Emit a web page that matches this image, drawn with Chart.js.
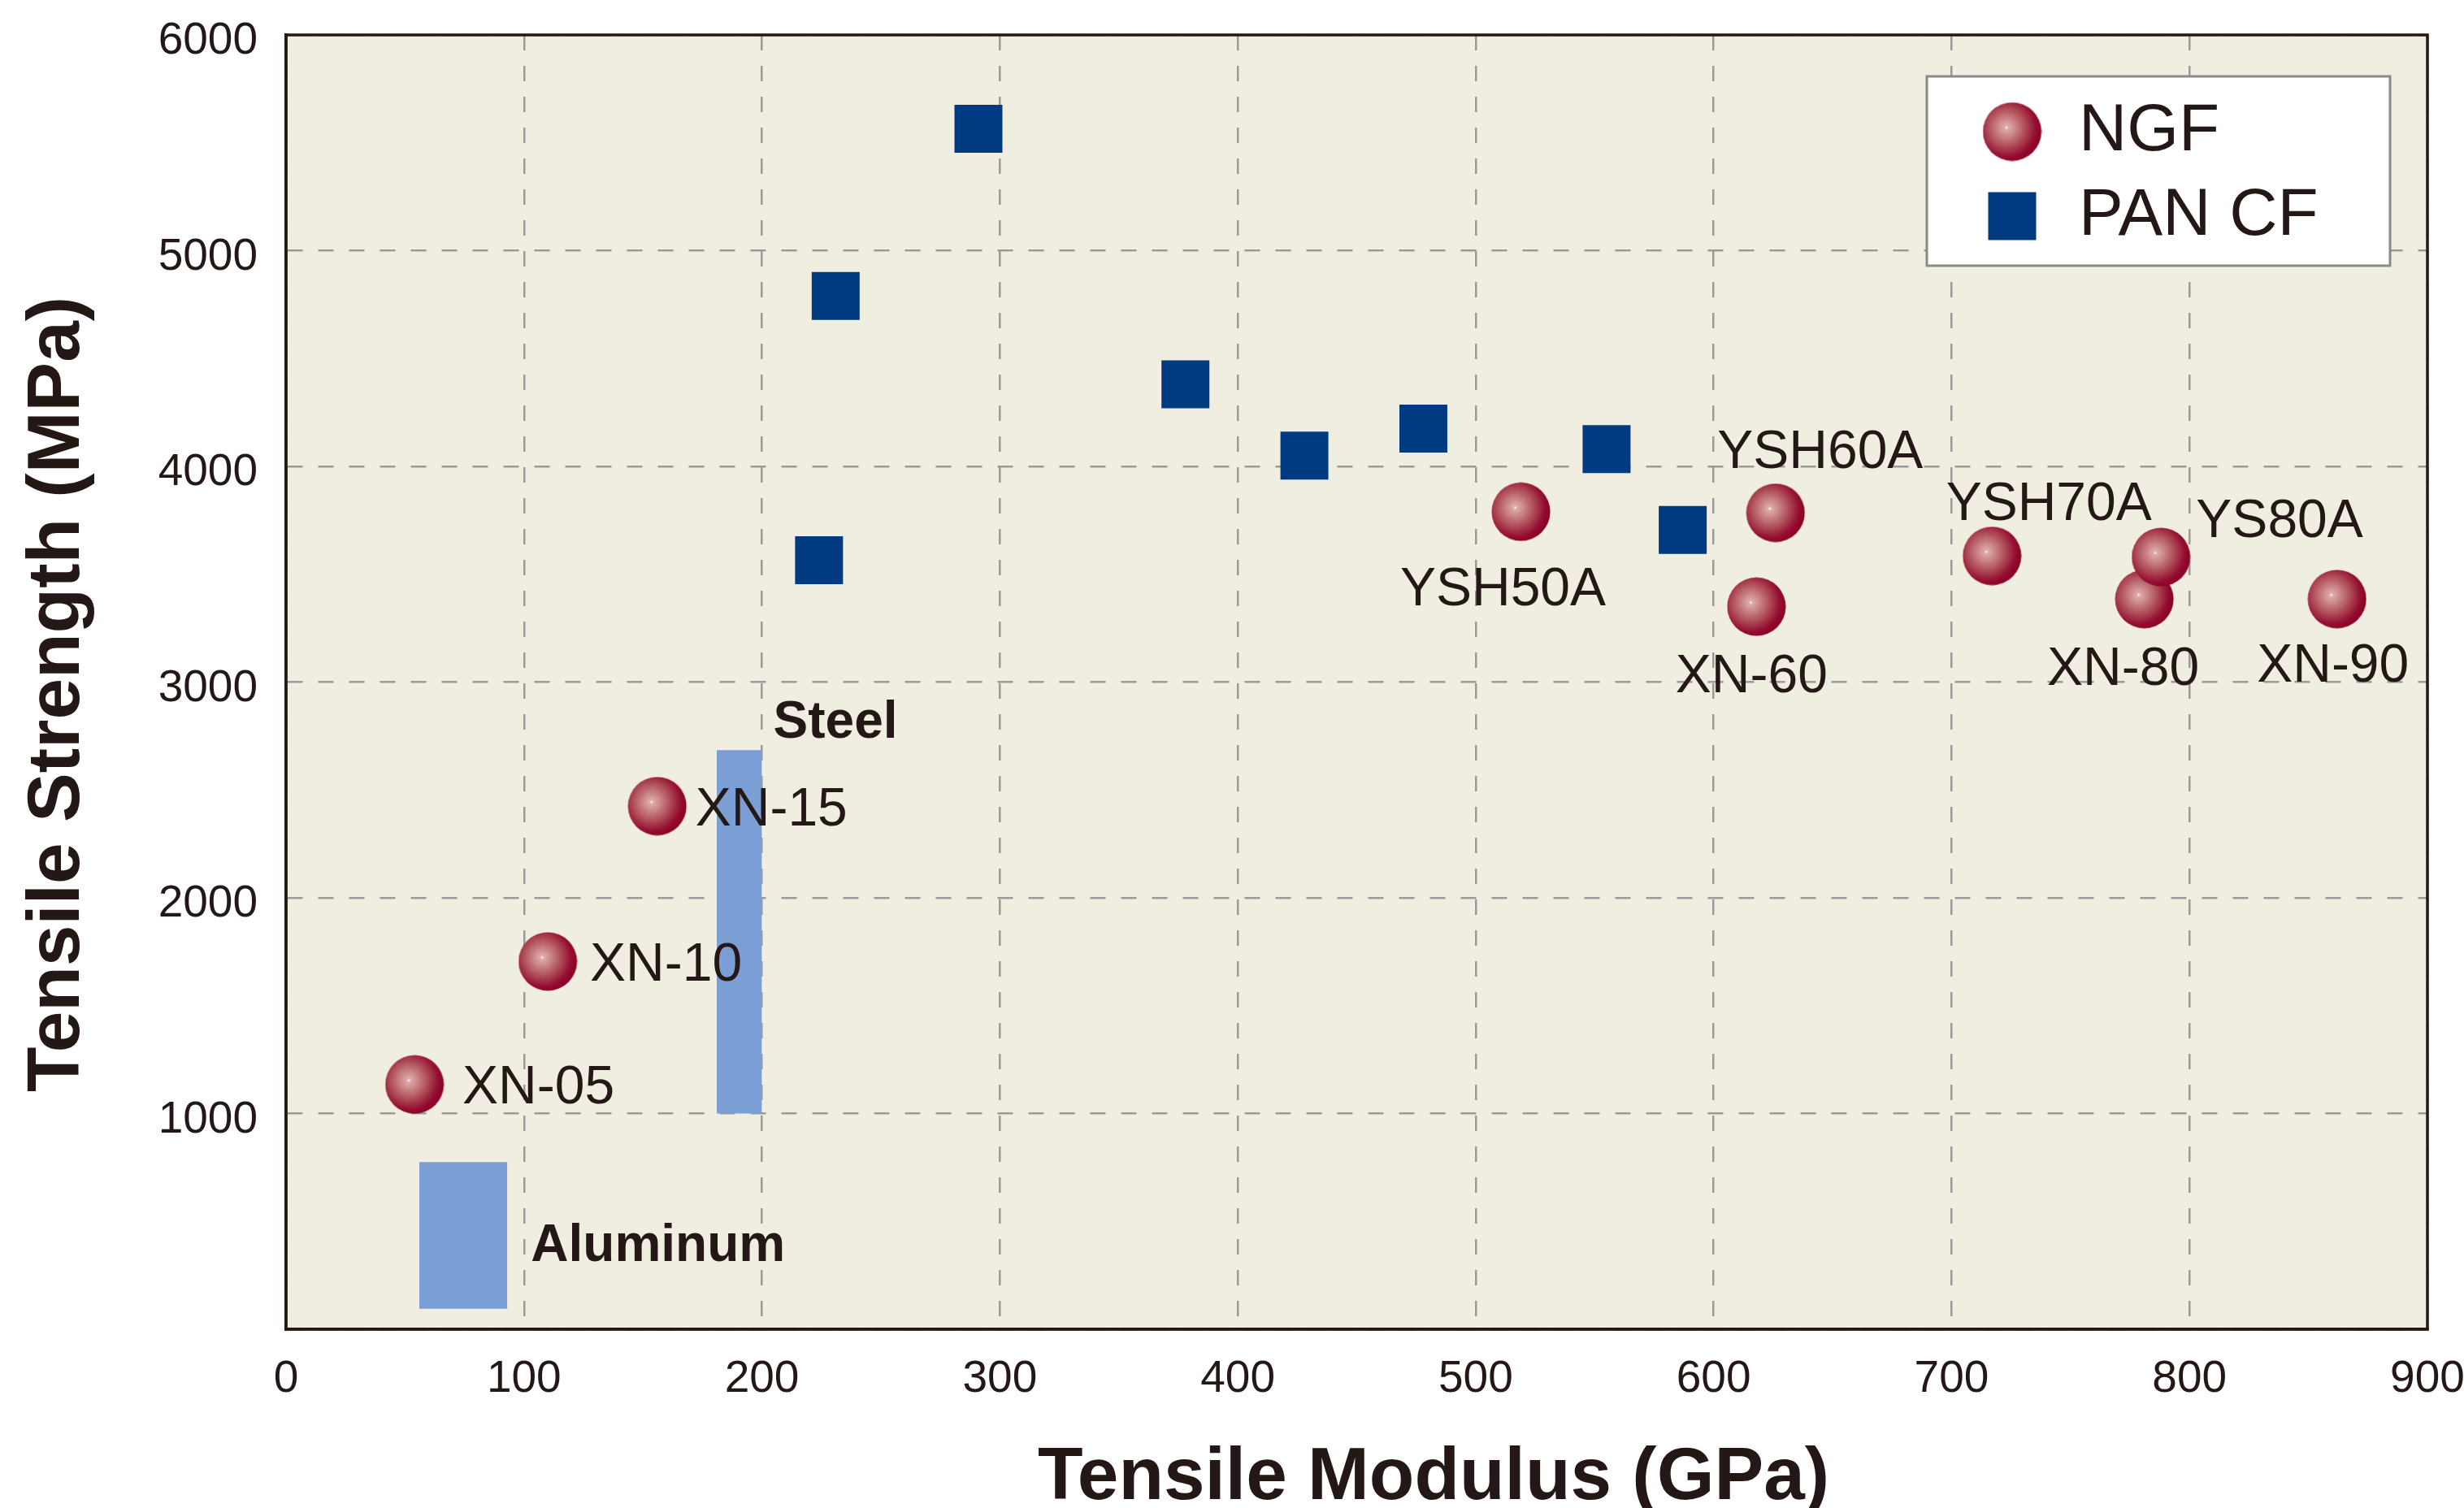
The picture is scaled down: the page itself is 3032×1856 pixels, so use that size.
<!DOCTYPE html>
<html>
<head>
<meta charset="utf-8">
<script src="https://cdn.jsdelivr.net/npm/chart.js@4/dist/chart.umd.min.js"></script>
<style>
  html, body { margin: 0; padding: 0; background: #ffffff; }
  canvas { display: block; }
</style>
</head>
<body>
<canvas id="chart" width="3032" height="1856"></canvas>
<script>
// ---------------- DATA ----------------
const seriesNames = ['NGF', 'PAN CF'];
const ngfLabels   = ['XN-05', 'XN-10', 'XN-15', 'YSH50A', 'YSH60A', 'XN-60', 'YSH70A', 'XN-80', 'YS80A', 'XN-90'];
const ngfModulus  = [54, 110, 156, 519, 626, 618, 717, 781, 788, 862];
const ngfStrength = [1135, 1705, 2425, 3790, 3785, 3350, 3585, 3385, 3580, 3385];

const panModulus  = [291, 231, 224, 378, 428, 478, 555, 587];
const panStrength = [5565, 4790, 3565, 4380, 4050, 4175, 4080, 3705];

const materialNames    = ['Steel', 'Aluminum'];
const materialModulus  = [[181, 200], [56, 93]];
const materialStrength = [[1000, 2685], [95, 775]];

const xTickLabels = ['0', '100', '200', '300', '400', '500', '600', '700', '800', '900'];
const yTickLabels = ['', '1000', '2000', '3000', '4000', '5000', '6000'];
const xTitle = 'Tensile Modulus (GPa)';
const yTitle = 'Tensile Strength (MPa)';

// ---------------- STYLE ----------------
const INK = '#231815';
const FONT = '"Liberation Sans", Arial, Helvetica, sans-serif';
const PLOT_BG = '#f0eee0';
const GRID = '#9a9a9a';
const PAN_COLOR = '#003a80';
const MATERIAL_COLOR = '#7b9fd4';

// label placement relative to marker centre (pixels)
const ngfLabelPlacement = [
  {align: 'left',   dx: 59,  dy: 0},
  {align: 'left',   dx: 52,  dy: 0},
  {align: 'left',   dx: 47,  dy: 0},
  {align: 'center', dx: -22, dy: 92},
  {align: 'center', dx: 55,  dy: -79},
  {align: 'center', dx: -6,  dy: 82},
  {align: 'center', dx: 70,  dy: -68},
  {align: 'center', dx: -26, dy: 82},
  {align: 'center', dx: 146, dy: -48},
  {align: 'center', dx: -5,  dy: 78}
];
// material labels: left offset from rect right edge, baseline offset from rect top
const materialLabelPlacement = [
  {dx: 14, dy: -15},
  {dx: 29, dy: 122}
];

function makeSphere(d) {
  const c = document.createElement('canvas');
  c.width = d; c.height = d;
  const g = c.getContext('2d');
  const r = d / 2;
  const hx = r - 7, hy = r - 5;
  const grad = g.createRadialGradient(hx, hy, 0, hx, hy, r + 7);
  grad.addColorStop(0.00, '#ffffff');
  grad.addColorStop(0.05, '#e0acac');
  grad.addColorStop(0.24, '#cb8888');
  grad.addColorStop(0.54, '#ae4b57');
  grad.addColorStop(0.82, '#950f32');
  grad.addColorStop(1.00, '#8a0026');
  g.fillStyle = grad;
  g.beginPath();
  g.arc(r, r, r - 0.5, 0, Math.PI * 2);
  g.fill();
  return c;
}
const sphere = makeSphere(73);

function rectData(k) {
  return [
    {x: materialModulus[k][0], y: materialStrength[k][1]},
    {x: materialModulus[k][1], y: materialStrength[k][1]}
  ];
}

function legendBoxRect(a) {
  return {x: a.right - 616, y: a.top + 51, w: 570, h: 233};
}

function fixScale(s, key, size) {
  s[key] = size;
  s.paddingTop = 0; s.paddingBottom = 0; s.paddingLeft = 0; s.paddingRight = 0;
}

const decorPlugin = {
  id: 'decor',
  beforeDraw(chart) {
    const {ctx, chartArea: a} = chart;
    ctx.save();
    ctx.fillStyle = '#ffffff';
    ctx.fillRect(0, 0, chart.width, chart.height);
    ctx.fillStyle = PLOT_BG;
    ctx.fillRect(a.left, a.top, a.right - a.left, a.bottom - a.top);
    ctx.restore();
  },
  afterLayout(chart) {
    const lg = chart.legend;
    if (!lg) return;
    const a = chart.chartArea;
    const b = legendBoxRect(a);
    lg.left = b.x + 42;
    lg.top = b.y + 5;
    lg.right = b.x + b.w;
    lg.bottom = b.y + b.h + 120;
    lg.width = lg.right - lg.left;
    lg.height = lg.bottom - lg.top;
    if (!lg.__patched) {
      const orig = lg.draw;
      lg.draw = function(...args) {
        const ctx = chart.ctx;
        const bb = legendBoxRect(chart.chartArea);
        ctx.save();
        ctx.fillStyle = '#ffffff';
        ctx.fillRect(bb.x, bb.y, bb.w, bb.h);
        ctx.lineWidth = 3;
        ctx.strokeStyle = '#8a8a8a';
        ctx.strokeRect(bb.x, bb.y, bb.w, bb.h);
        ctx.restore();
        return orig.apply(this, args);
      };
      lg.__patched = true;
    }
  },
  afterDatasetsDraw(chart) {
    const {ctx, scales: {x, y}} = chart;
    ctx.save();
    ctx.fillStyle = INK;
    // point labels
    const fs = 66;
    ctx.font = fs + 'px ' + FONT;
    ctx.textBaseline = 'alphabetic';
    ngfLabels.forEach((txt, i) => {
      const p = ngfLabelPlacement[i];
      const px = x.getPixelForValue(ngfModulus[i]);
      const py = y.getPixelForValue(ngfStrength[i]);
      ctx.textAlign = p.align;
      ctx.fillText(txt, px + p.dx, py + p.dy + 0.358 * fs);
    });
    // material labels
    ctx.font = 'bold 64px ' + FONT;
    ctx.textAlign = 'left';
    materialNames.forEach((txt, k) => {
      const p = materialLabelPlacement[k];
      const rx = x.getPixelForValue(materialModulus[k][1]);
      const ry = y.getPixelForValue(materialStrength[k][1]);
      ctx.fillText(txt, rx + p.dx, ry + p.dy);
    });
    ctx.restore();
  },
  afterDraw(chart) {
    const {ctx, chartArea: a} = chart;
    ctx.save();
    ctx.lineWidth = 3.5;
    ctx.strokeStyle = INK;
    ctx.strokeRect(a.left, a.top, a.right - a.left, a.bottom - a.top);
    // axis titles
    ctx.fillStyle = INK;
    ctx.font = 'bold 91px ' + FONT;
    ctx.textAlign = 'center';
    ctx.textBaseline = 'alphabetic';
    ctx.fillText(xTitle, a.left + 1412, a.bottom + 209);
    ctx.translate(97, (a.top + a.bottom) / 2 + 15);
    ctx.rotate(-Math.PI / 2);
    ctx.fillText(yTitle, 0, 0);
    ctx.restore();
  }
};

const chart = new Chart(document.getElementById('chart'), {
  type: 'scatter',
  data: {
    datasets: [
      {
        label: seriesNames[0],
        data: ngfModulus.map((v, i) => ({x: v, y: ngfStrength[i]})),
        pointStyle: sphere,
        pointRadius: 37,
        backgroundColor: '#8a0026',
        borderWidth: 0,
        order: 0
      },
      {
        label: seriesNames[1],
        data: panModulus.map((v, i) => ({x: v, y: panStrength[i]})),
        pointStyle: 'rect',
        pointRadius: 41.7,
        backgroundColor: PAN_COLOR,
        borderColor: PAN_COLOR,
        borderWidth: 0,
        order: 1
      },
      {
        type: 'line',
        label: materialNames[0],
        data: rectData(0),
        fill: {value: materialStrength[0][0]},
        backgroundColor: MATERIAL_COLOR,
        borderColor: 'rgba(0,0,0,0)',
        borderWidth: 0,
        pointRadius: 0,
        tension: 0,
        order: 5
      },
      {
        type: 'line',
        label: materialNames[1],
        data: rectData(1),
        fill: {value: materialStrength[1][0]},
        backgroundColor: MATERIAL_COLOR,
        borderColor: 'rgba(0,0,0,0)',
        borderWidth: 0,
        pointRadius: 0,
        tension: 0,
        order: 6
      }
    ]
  },
  options: {
    responsive: false,
    devicePixelRatio: 1,
    animation: false,
    events: [],
    layout: {padding: {top: 43, right: 45, bottom: 0, left: 0}},
    scales: {
      x: {
        type: 'linear',
        min: 0, max: 900,
        afterFit: (s) => fixScale(s, 'height', 220),
        ticks: {
          stepSize: 100,
          autoSkip: false,
          maxRotation: 0,
          padding: 29,
          color: INK,
          font: {family: FONT, size: 55},
          callback: (v, i) => xTickLabels[i]
        },
        grid: {color: GRID, lineWidth: 2.5, drawTicks: false},
        border: {display: true, color: INK, width: 3.5, dash: [19, 19]}
      },
      y: {
        type: 'linear',
        min: 0, max: 6000,
        afterFit: (s) => fixScale(s, 'width', 352),
        ticks: {
          stepSize: 1000,
          padding: 35,
          labelOffset: 8,
          color: INK,
          font: {family: FONT, size: 55},
          callback: (v, i) => yTickLabels[i]
        },
        grid: {color: GRID, lineWidth: 2.5, drawTicks: false},
        border: {display: true, color: INK, width: 3.5, dash: [19, 19]}
      }
    },
    plugins: {
      tooltip: {enabled: false},
      title: {display: false},
      filler: {propagate: false},
      legend: {
        position: 'chartArea',
        align: 'start',
        labels: {
          usePointStyle: true,
          boxWidth: 82,
          boxHeight: 59,
          padding: 22,
          color: INK,
          font: {family: FONT, size: 82},
          filter: (item) => item.datasetIndex < 2
        }
      }
    }
  },
  plugins: [decorPlugin]
});
</script>
</body>
</html>
